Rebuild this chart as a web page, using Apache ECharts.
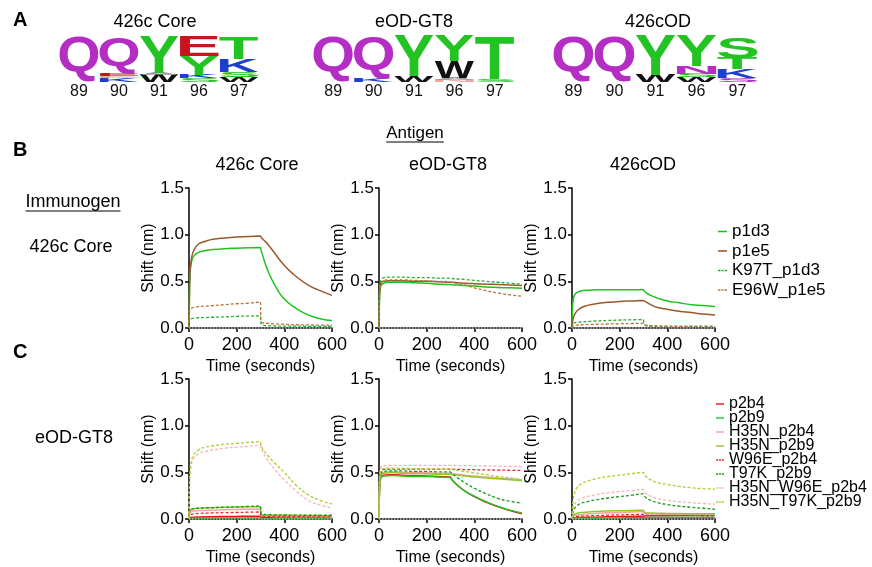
<!DOCTYPE html>
<html><head><meta charset="utf-8">
<script src="https://cdn.jsdelivr.net/npm/echarts@6/dist/echarts.min.js"></script>
<style>html,body{margin:0;padding:0;background:#fff}#c{width:872px;height:567px}</style>
</head><body><div id="c"></div>
<script>
const FONT = '"Liberation Sans", Arial, Helvetica, sans-serif';

// ---------- time points (seconds) ----------
const T = [0, 2, 5, 10, 20, 40, 70, 100, 150, 200, 250, 299, 302, 310, 330, 360, 400, 450, 500, 550, 600];

// ---------- Row B : immunogen 426c Core ----------
const B_names = ['p1d3', 'p1e5', 'K97T_p1d3', 'E96W_p1e5'];
const B_colors = ['#1EC41E', '#9A5A2C', '#2AAE2A', '#B87538'];
const B_dashed = [false, false, true, true];
// antigen 426c Core
const B1_p1d3 = [0, 0.35, 0.6, 0.7, 0.77, 0.81, 0.83, 0.84, 0.85, 0.855, 0.86, 0.862, 0.84, 0.77, 0.62, 0.46, 0.31, 0.21, 0.14, 0.1, 0.08];
const B1_p1e5 = [0, 0.4, 0.62, 0.74, 0.83, 0.9, 0.93, 0.95, 0.965, 0.975, 0.98, 0.985, 0.975, 0.95, 0.9, 0.8, 0.67, 0.55, 0.46, 0.4, 0.35];
const B1_K97T = [0, 0.08, 0.095, 0.1, 0.105, 0.11, 0.112, 0.115, 0.12, 0.125, 0.128, 0.13, 0.05, 0.03, 0.025, 0.022, 0.02, 0.02, 0.018, 0.018, 0.018];
const B1_E96W = [0, 0.16, 0.2, 0.21, 0.22, 0.23, 0.235, 0.24, 0.25, 0.26, 0.265, 0.28, 0.07, 0.055, 0.05, 0.045, 0.04, 0.035, 0.033, 0.03, 0.03];
// antigen eOD-GT8
const B2_p1d3 = [0, 0.3, 0.42, 0.46, 0.48, 0.49, 0.49, 0.49, 0.485, 0.48, 0.47, 0.465, 0.465, 0.463, 0.46, 0.455, 0.45, 0.44, 0.435, 0.43, 0.425];
const B2_p1e5 = [0, 0.33, 0.45, 0.49, 0.5, 0.505, 0.505, 0.505, 0.5, 0.5, 0.495, 0.49, 0.49, 0.49, 0.485, 0.48, 0.475, 0.47, 0.465, 0.46, 0.455];
const B2_K97T = [0, 0.35, 0.48, 0.52, 0.54, 0.545, 0.545, 0.545, 0.54, 0.54, 0.535, 0.535, 0.535, 0.53, 0.525, 0.52, 0.51, 0.5, 0.49, 0.48, 0.47];
const B2_E96W = [0, 0.32, 0.45, 0.49, 0.51, 0.515, 0.515, 0.515, 0.51, 0.505, 0.5, 0.495, 0.49, 0.485, 0.475, 0.46, 0.43, 0.4, 0.375, 0.355, 0.34];
// antigen 426cOD
const B3_p1d3 = [0, 0.2, 0.3, 0.35, 0.38, 0.4, 0.405, 0.41, 0.41, 0.41, 0.41, 0.41, 0.4, 0.38, 0.35, 0.32, 0.29, 0.27, 0.25, 0.24, 0.23];
const B3_p1e5 = [0, 0.06, 0.1, 0.14, 0.18, 0.22, 0.245, 0.26, 0.275, 0.285, 0.29, 0.295, 0.29, 0.28, 0.25, 0.22, 0.2, 0.18, 0.165, 0.15, 0.14];
const B3_K97T = [0, 0.03, 0.045, 0.055, 0.06, 0.065, 0.07, 0.075, 0.08, 0.085, 0.088, 0.09, 0.05, 0.03, 0.025, 0.022, 0.02, 0.02, 0.02, 0.02, 0.02];
const B3_E96W = [0, 0.015, 0.02, 0.025, 0.03, 0.035, 0.038, 0.04, 0.043, 0.046, 0.048, 0.05, 0.035, 0.025, 0.02, 0.018, 0.016, 0.015, 0.015, 0.015, 0.015];

// ---------- Row C : immunogen eOD-GT8 ----------
const C_names = ['p2b4', 'p2b9', 'H35N_p2b4', 'H35N_p2b9', 'W96E_p2b4', 'T97K_p2b9', 'H35N_W96E_p2b4', 'H35N_T97K_p2b9'];
const C_colors = ['#E8141C', '#22C322', '#F7A3A3', '#8CCB2E', '#E82A2A', '#189A18', '#F8B4B4', '#A6D22A'];
const C_dashed = [false, false, false, false, true, true, true, true];
// antigen 426c Core
const C1_p2b4 = [0, 0.01, 0.015, 0.018, 0.02, 0.022, 0.024, 0.025, 0.027, 0.028, 0.03, 0.03, 0.02, 0.015, 0.013, 0.012, 0.01, 0.01, 0.01, 0.01, 0.01];
const C1_p2b9 = [0, 0.005, 0.008, 0.01, 0.01, 0.01, 0.01, 0.01, 0.01, 0.01, 0.01, 0.01, 0.004, 0.002, 0.002, 0.002, 0.002, 0.002, 0.002, 0.002, 0.002];
const C1_H35N_p2b4 = [0, 0.05, 0.07, 0.08, 0.085, 0.09, 0.092, 0.095, 0.1, 0.102, 0.105, 0.108, 0.04, 0.035, 0.032, 0.03, 0.03, 0.028, 0.027, 0.026, 0.025];
const C1_H35N_p2b9 = [0, 0.07, 0.09, 0.1, 0.11, 0.115, 0.118, 0.12, 0.125, 0.128, 0.13, 0.132, 0.05, 0.045, 0.042, 0.04, 0.04, 0.038, 0.037, 0.036, 0.035];
const C1_W96E_p2b4 = [0, 0.03, 0.045, 0.05, 0.055, 0.06, 0.063, 0.065, 0.068, 0.07, 0.073, 0.075, 0.035, 0.03, 0.028, 0.026, 0.025, 0.025, 0.024, 0.023, 0.022];
const C1_T97K_p2b9 = [0, 0.07, 0.09, 0.105, 0.11, 0.115, 0.12, 0.122, 0.126, 0.13, 0.135, 0.14, 0.06, 0.05, 0.047, 0.045, 0.043, 0.042, 0.04, 0.04, 0.04];
const C1_H35N_W96E = [0, 0.3, 0.48, 0.58, 0.65, 0.7, 0.725, 0.74, 0.76, 0.77, 0.78, 0.79, 0.77, 0.72, 0.63, 0.53, 0.42, 0.3, 0.2, 0.15, 0.12];
const C1_H35N_T97K = [0, 0.35, 0.52, 0.62, 0.69, 0.74, 0.77, 0.785, 0.8, 0.81, 0.82, 0.83, 0.8, 0.75, 0.68, 0.6, 0.5, 0.36, 0.26, 0.2, 0.16];
// antigen eOD-GT8
const C2_p2b4 = [0, 0.3, 0.42, 0.46, 0.47, 0.475, 0.475, 0.47, 0.465, 0.46, 0.455, 0.45, 0.44, 0.41, 0.36, 0.3, 0.24, 0.18, 0.13, 0.09, 0.055];
const C2_p2b9 = [0, 0.28, 0.4, 0.45, 0.46, 0.465, 0.465, 0.46, 0.455, 0.455, 0.45, 0.445, 0.435, 0.41, 0.36, 0.3, 0.245, 0.185, 0.135, 0.095, 0.065];
const C2_H35N_p2b4 = [0, 0.35, 0.46, 0.49, 0.5, 0.505, 0.505, 0.5, 0.5, 0.495, 0.49, 0.49, 0.488, 0.485, 0.48, 0.47, 0.46, 0.45, 0.44, 0.43, 0.42];
const C2_H35N_p2b9 = [0, 0.35, 0.45, 0.48, 0.49, 0.495, 0.495, 0.49, 0.49, 0.485, 0.48, 0.48, 0.478, 0.475, 0.47, 0.46, 0.45, 0.44, 0.43, 0.42, 0.41];
const C2_W96E_p2b4 = [0, 0.35, 0.48, 0.52, 0.53, 0.535, 0.535, 0.535, 0.535, 0.535, 0.535, 0.535, 0.535, 0.533, 0.532, 0.53, 0.528, 0.526, 0.524, 0.522, 0.52];
const C2_T97K_p2b9 = [0, 0.33, 0.46, 0.5, 0.51, 0.515, 0.515, 0.515, 0.51, 0.51, 0.505, 0.505, 0.5, 0.48, 0.44, 0.39, 0.33, 0.27, 0.22, 0.19, 0.17];
const C2_H35N_W96E = [0, 0.38, 0.52, 0.56, 0.57, 0.575, 0.575, 0.575, 0.575, 0.575, 0.575, 0.575, 0.575, 0.574, 0.573, 0.572, 0.57, 0.568, 0.566, 0.564, 0.562];
const C2_H35N_T97K = [0, 0.36, 0.5, 0.53, 0.54, 0.545, 0.545, 0.545, 0.54, 0.54, 0.535, 0.535, 0.533, 0.53, 0.52, 0.51, 0.495, 0.475, 0.455, 0.44, 0.42];
// antigen 426cOD
const C3_p2b4 = [0, 0.005, 0.008, 0.01, 0.012, 0.015, 0.018, 0.02, 0.023, 0.026, 0.028, 0.03, 0.032, 0.033, 0.035, 0.036, 0.038, 0.04, 0.042, 0.043, 0.045];
const C3_p2b9 = [0, 0.003, 0.005, 0.006, 0.007, 0.008, 0.009, 0.01, 0.011, 0.012, 0.013, 0.014, 0.015, 0.015, 0.016, 0.017, 0.018, 0.019, 0.02, 0.02, 0.02];
const C3_H35N_p2b4 = [0, 0.02, 0.03, 0.035, 0.04, 0.048, 0.055, 0.06, 0.066, 0.07, 0.075, 0.08, 0.065, 0.06, 0.057, 0.055, 0.053, 0.052, 0.05, 0.05, 0.05];
const C3_H35N_p2b9 = [0, 0.03, 0.04, 0.05, 0.06, 0.07, 0.075, 0.08, 0.085, 0.088, 0.09, 0.095, 0.075, 0.068, 0.064, 0.062, 0.06, 0.058, 0.056, 0.055, 0.055];
const C3_W96E_p2b4 = [0, 0.01, 0.015, 0.02, 0.025, 0.03, 0.034, 0.037, 0.041, 0.044, 0.047, 0.05, 0.042, 0.04, 0.039, 0.038, 0.037, 0.036, 0.036, 0.035, 0.035];
const C3_T97K_p2b9 = [0, 0.05, 0.08, 0.11, 0.14, 0.17, 0.19, 0.205, 0.225, 0.24, 0.255, 0.27, 0.255, 0.23, 0.2, 0.175, 0.155, 0.138, 0.125, 0.115, 0.105];
const C3_H35N_W96E = [0, 0.07, 0.11, 0.15, 0.19, 0.22, 0.245, 0.26, 0.28, 0.295, 0.305, 0.315, 0.3, 0.275, 0.245, 0.22, 0.2, 0.185, 0.175, 0.165, 0.16];
const C3_H35N_T97K = [0, 0.12, 0.2, 0.27, 0.33, 0.38, 0.41, 0.43, 0.455, 0.47, 0.485, 0.5, 0.48, 0.455, 0.42, 0.39, 0.37, 0.35, 0.335, 0.325, 0.32];

// ---------- axis ticks ----------
const xTicks = { min: 0, max: 600, interval: 200 };
const yTicks = { min: 0, max: 1.5, interval: 0.5 };

// ---------- sequence logos (stacks bottom -> top: [letter, height, colour key]) ----------
const logoPositions = ['89', '90', '91', '96', '97'];
const logoTitles = ['426c Core', 'eOD-GT8', '426cOD'];
const logoCore = [
  [['Q', 0.96, 'M']],
  [['K', 0.08, 'B'], ['E', 0.04, 'P'], ['E', 0.05, 'R'], ['Q', 0.79, 'M']],
  [['W', 0.15, 'K'], ['A', 0.04, 'A'], ['Y', 0.8, 'G']],
  [['S', 0.08, 'G'], ['K', 0.07, 'B'], ['Y', 0.4, 'G'], ['E', 0.43, 'R']],
  [['W', 0.1, 'K'], ['S', 0.12, 'G'], ['K', 0.28, 'B'], ['T', 0.48, 'G']]
];
const logoGT8 = [
  [['Q', 0.96, 'M']],
  [['K', 0.07, 'B'], ['Q', 0.89, 'M']],
  [['W', 0.12, 'K'], ['Y', 0.87, 'G']],
  [['N', 0.05, 'P'], ['A', 0.04, 'A'], ['W', 0.36, 'K'], ['Y', 0.54, 'G']],
  [['S', 0.06, 'G'], ['T', 0.9, 'G']]
];
const logoOD = [
  [['Q', 0.94, 'M']],
  [['Q', 0.94, 'M']],
  [['W', 0.15, 'K'], ['Y', 0.85, 'G']],
  [['W', 0.1, 'K'], ['S', 0.08, 'G'], ['N', 0.17, 'M'], ['Y', 0.65, 'G']],
  [['S', 0.09, 'M'], ['K', 0.18, 'B'], ['T', 0.24, 'G'], ['S', 0.44, 'G']]
];
const logoColors = { M: '#B42EC4', G: '#24C324', R: '#C8141E', B: '#1C3FCF', K: '#111111', P: '#F2A6A6', A: '#A0A0A0' };

// ---------- layout ----------
const plotLefts = [189, 379, 572];
const plotTops = [188, 379];
const plotW = 143, plotH = 140;
const logoBoxes = [[59, 200], [313, 202], [553, 205]];

const curvesB = [
  [B1_p1d3, B1_p1e5, B1_K97T, B1_E96W],
  [B2_p1d3, B2_p1e5, B2_K97T, B2_E96W],
  [B3_p1d3, B3_p1e5, B3_K97T, B3_E96W]
];
const curvesC = [
  [C1_p2b4, C1_p2b9, C1_H35N_p2b4, C1_H35N_p2b9, C1_W96E_p2b4, C1_T97K_p2b9, C1_H35N_W96E, C1_H35N_T97K],
  [C2_p2b4, C2_p2b9, C2_H35N_p2b4, C2_H35N_p2b9, C2_W96E_p2b4, C2_T97K_p2b9, C2_H35N_W96E, C2_H35N_T97K],
  [C3_p2b4, C3_p2b9, C3_H35N_p2b4, C3_H35N_p2b9, C3_W96E_p2b4, C3_T97K_p2b9, C3_H35N_W96E, C3_H35N_T97K]
];

const grids = [], xAxes = [], yAxes = [], series = [];
const axisStyle = { lineStyle: { color: '#000', width: 1.5 } };
let gi = 0;
[curvesB, curvesC].forEach((rowCurves, r) => {
  const names = r === 0 ? B_names : C_names;
  const colors = r === 0 ? B_colors : C_colors;
  const dashed = r === 0 ? B_dashed : C_dashed;
  rowCurves.forEach((set, c) => {
    grids.push({ left: plotLefts[c], top: plotTops[r], width: plotW, height: plotH, outerBoundsMode: 'none' });
    xAxes.push({
      gridIndex: gi, type: 'value', min: xTicks.min, max: xTicks.max, interval: xTicks.interval,
      axisLine: { show: true, onZero: false, ...axisStyle }, axisTick: { show: true, length: 4, ...axisStyle },
      axisLabel: { color: '#000', fontSize: 18, fontFamily: FONT, margin: 8 },
      splitLine: { show: false },
      name: 'Time (seconds)', nameLocation: 'middle', nameGap: 31,
      nameTextStyle: { color: '#000', fontSize: 16, fontFamily: FONT }
    });
    yAxes.push({
      gridIndex: gi, type: 'value', min: yTicks.min, max: yTicks.max, interval: yTicks.interval,
      axisLine: { show: true, ...axisStyle }, axisTick: { show: true, length: 4, ...axisStyle },
      axisLabel: { color: '#000', fontSize: 17, fontFamily: FONT, margin: 5, formatter: v => v.toFixed(1) },
      splitLine: { show: false },
      name: 'Shift (nm)', nameLocation: 'middle', nameGap: 23, nameRotate: 90,
      nameTextStyle: { color: '#000', fontSize: 16, fontFamily: FONT }
    });
    set.forEach((vals, k) => {
      const s = {
        type: 'line', name: names[k], xAxisIndex: gi, yAxisIndex: gi,
        data: T.map((t, i) => [t, vals[i]]),
        symbol: 'none', showSymbol: false, smooth: 0.5,
        lineStyle: { color: colors[k], width: dashed[k] ? 1.3 : 1.5, type: dashed[k] ? [3, 2] : 'solid' },
        itemStyle: { color: colors[k] },
        emphasis: { disabled: true }, animation: false, z: 3
      };
      if (k === 0) {
        s.markLine = {
          silent: true, symbol: 'none', label: { show: false }, animation: false,
          lineStyle: { color: '#9a9a9a', type: [1.5, 1.5], width: 2 },
          data: [{ yAxis: 0 }]
        };
      }
      series.push(s);
    });
    gi++;
  });
});

// ---------- logos via custom series ----------
const LOGO_FONT = 'bold 100px "Liberation Sans", Arial, sans-serif';
const mctx = document.createElement('canvas').getContext('2d');
const mCache = {};
function measure(ch) {
  if (mCache[ch]) return mCache[ch];
  mctx.font = LOGO_FONT; mctx.textBaseline = 'middle'; mctx.textAlign = 'left';
  const m = mctx.measureText(ch);
  return (mCache[ch] = { A: m.actualBoundingBoxAscent, D: m.actualBoundingBoxDescent, L: m.actualBoundingBoxLeft, R: m.actualBoundingBoxRight });
}
[logoCore, logoGT8, logoOD].forEach((logo, li) => {
  grids.push({ left: logoBoxes[li][0], top: 35, width: logoBoxes[li][1], height: 47, outerBoundsMode: 'none' });
  xAxes.push({
    gridIndex: gi, type: 'category', data: logoPositions, boundaryGap: true,
    axisLine: { show: false }, axisTick: { show: false },
    axisLabel: { color: '#111', fontSize: 16, fontFamily: FONT, margin: 2 }
  });
  yAxes.push({ gridIndex: gi, type: 'value', min: 0, max: 1, show: false, splitLine: { show: false } });
  const items = [];
  logo.forEach((stack, col) => {
    let acc = 0;
    stack.forEach(([ch, h, ck]) => { items.push({ col, ch, y0: acc, y1: acc + h, color: logoColors[ck] }); acc += h; });
  });
  series.push({
    type: 'custom', xAxisIndex: gi, yAxisIndex: gi, silent: true, animation: false,
    encode: { x: 0, y: [1, 2] },
    data: items.map(it => [it.col, it.y0, it.y1]),
    renderItem: function (params, api) {
      const it = items[params.dataIndex];
      const band = api.size([1, 0])[0];
      const cx = api.coord([it.col, 0])[0];
      const yb = api.coord([it.col, it.y0])[1];
      const yt = api.coord([it.col, it.y1])[1];
      const h = yb - yt; if (h < 0.3) return null;
      const w = band - 1;
      const m = measure(it.ch);
      const sx = w / (m.L + m.R), sy = h / (m.A + m.D);
      return {
        type: 'text', x: cx - w / 2 + m.L * sx, y: yt + m.A * sy, scaleX: sx, scaleY: sy,
        style: { text: it.ch, x: 0, y: 0, font: LOGO_FONT, textAlign: 'left', textVerticalAlign: 'middle', align: 'left', verticalAlign: 'middle', fill: it.color }
      };
    }
  });
  gi++;
});

// ---------- legend icons ----------
const ICON_SOLID = 'path://M0,0h9v1.6h-9z';
const ICON_DASH = 'path://M0,0h2.5v1.6h-2.5z M3.5,0h2v1.6h-2z M6.5,0h2.5v1.6h-2.5z';

// ---------- free text ----------
function txt(text, x, y, size, bold, align) {
  return { type: 'text', x, y, silent: true, style: { text, font: (bold ? 'bold ' : '') + size + 'px ' + FONT, fill: '#000', textAlign: align || 'center', textVerticalAlign: 'middle', align: align || 'center', verticalAlign: 'middle' } };
}
function textWidth(text, size) { mctx.font = size + 'px ' + FONT; return mctx.measureText(text).width; }
function underline(text, cx, y, size) {
  const w = textWidth(text, size);
  return { type: 'line', silent: true, shape: { x1: cx - w / 2, y1: y, x2: cx + w / 2, y2: y }, style: { stroke: '#000', lineWidth: 1.2 } };
}
const graphics = [
  txt('A', 13, 20, 20, true, 'left'),
  txt('B', 13, 150, 20, true, 'left'),
  txt('C', 13, 352, 20, true, 'left'),
  txt(logoTitles[0], 155, 22, 18), txt(logoTitles[1], 414, 22, 18), txt(logoTitles[2], 658, 22, 18),
  txt('Antigen', 415, 133, 17), underline('Antigen', 415, 142, 17),
  txt('426c Core', 257, 165, 18), txt('eOD-GT8', 448, 165, 18), txt('426cOD', 643, 165, 18),
  txt('Immunogen', 73, 202, 18), underline('Immunogen', 73, 211, 18),
  txt('426c Core', 71, 247, 18),
  txt('eOD-GT8', 74, 438, 18)
];

const chart = echarts.init(document.getElementById('c'), null, { renderer: 'canvas' });
chart.setOption({
  animation: false,
  textStyle: { fontFamily: FONT },
  grid: grids, xAxis: xAxes, yAxis: yAxes, series,
  legend: [
    {
      data: B_names.map((n, i) => ({ name: n, icon: B_dashed[i] ? ICON_DASH : ICON_SOLID })),
      orient: 'vertical', left: 718, top: 223, padding: 0,
      itemWidth: 9, itemHeight: 1.6, itemGap: 2.5, selectedMode: false,
      textStyle: { fontSize: 17, lineHeight: 17, color: '#000', fontFamily: FONT, padding: [0, 0, 0, 0] }
    },
    {
      data: C_names.map((n, i) => ({ name: n, icon: C_dashed[i] ? ICON_DASH : ICON_SOLID })),
      orient: 'vertical', left: 716, top: 396, padding: 0,
      itemWidth: 8, itemHeight: 1.6, itemGap: -2, selectedMode: false,
      textStyle: { fontSize: 16, lineHeight: 16, color: '#000', fontFamily: FONT, padding: [0, 0, 0, 0] }
    }
  ],
  graphic: graphics
});
</script></body></html>
